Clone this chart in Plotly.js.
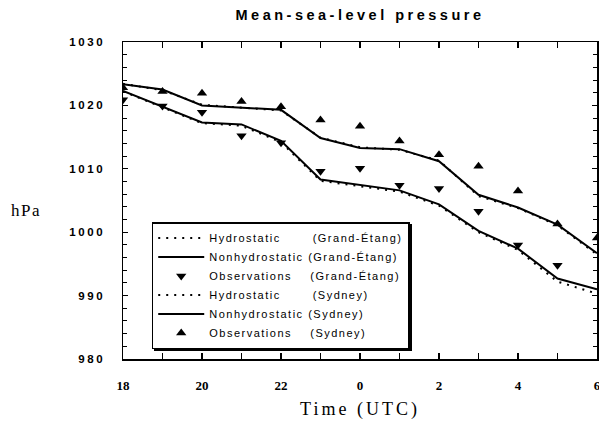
<!DOCTYPE html>
<html>
<head>
<meta charset="utf-8">
<script src="https://cdn.plot.ly/plotly-3.0.1.min.js"></script>
<style>
  html, body { margin: 0; padding: 0; background: #fff; }
  #chart { width: 599px; height: 428px; }
  .gtitle { letter-spacing: 3.5px; }
  .ytick text { letter-spacing: 2.6px; }
  .legendtext { letter-spacing: 1.5px; }
  .xtitle { letter-spacing: 3px; }
  .annotation-text { letter-spacing: 1.5px; }
  .legend .bg { filter: url(#legendShadow); }
</style>
</head>
<body>
<svg width="0" height="0" style="position:absolute">
  <defs>
    <filter id="legendShadow" x="-5%" y="-5%" width="115%" height="115%">
      <feDropShadow dx="2" dy="2" stdDeviation="0" flood-color="#000" flood-opacity="1"/>
    </filter>
  </defs>
</svg>
<div id="chart"></div>
<script>
// Hours (UTC); 24..30 correspond to 0..6 of the next day
const hours = [18, 19, 20, 21, 22, 23, 24, 25, 26, 27, 28, 29, 30];
const hourLabels = ['18', '', '20', '', '22', '', '0', '', '2', '', '4', '', '6'];

// Grand-Étang
const hydroGE    = [1022.2, 1019.7, 1017.2, 1016.8, 1014.2, 1008.1, 1007.3, 1006.4, 1004.2, 1000.0, 997.2, 992.2, 990.3];
const nonhydroGE = [1022.3, 1019.8, 1017.3, 1017.0, 1014.4, 1008.3, 1007.5, 1006.6, 1004.4, 1000.2, 997.4, 992.7, 991.0];
const obsGE      = [1020.9, 1019.9, 1018.9, 1015.2, 1014.1, 1009.6, 1010.1, 1007.4, 1006.9, 1003.3, 998.0, 994.8, null];

// Sydney
const hydroSyd    = [1023.4, 1022.4, 1020.1, 1019.6, 1019.2, 1014.9, 1013.4, 1013.0, 1011.3, 1005.7, 1003.8, 1001.1, 996.5];
const nonhydroSyd = [1023.35, 1022.5, 1020.0, 1019.7, 1019.3, 1014.85, 1013.3, 1013.1, 1011.2, 1005.9, 1003.9, 1001.2, 996.7];
const obsSyd      = [1022.8, 1022.2, 1021.9, 1020.6, 1019.8, 1017.7, 1016.7, 1014.4, 1012.2, 1010.4, 1006.5, 1001.3, 999.1];

const nb = n => '\u00a0'.repeat(n);
const dotted = { color: '#000', width: 2, dash: '2px,6px' };
const solid = { color: '#000', width: 2 };

const traces = [
  { x: hours, y: hydroGE, mode: 'lines', line: dotted, name: 'Hydrostatic' + nb(7) + '(Grand-Étang)' },
  { x: hours, y: nonhydroGE, mode: 'lines', line: solid, name: 'Nonhydrostatic' + nb(1) + '(Grand-Étang)' },
  { x: hours, y: obsGE, mode: 'markers', marker: { symbol: 'triangle-down', size: 9, color: '#000' }, name: 'Observations' + nb(4) + '(Grand-Étang)' },
  { x: hours, y: hydroSyd, mode: 'lines', line: dotted, name: 'Hydrostatic' + nb(7) + '(Sydney)' },
  { x: hours, y: nonhydroSyd, mode: 'lines', line: solid, name: 'Nonhydrostatic' + nb(1) + '(Sydney)' },
  { x: hours, y: obsSyd, mode: 'markers', marker: { symbol: 'triangle-up', size: 9, color: '#000' }, name: 'Observations' + nb(4) + '(Sydney)' }
];

const layout = {
  width: 599, height: 428,
  margin: { l: 123, r: 2, t: 42, b: 69 },
  paper_bgcolor: '#fff', plot_bgcolor: '#fff',
  showlegend: true,
  title: {
    text: 'Mean-sea-level pressure',
    font: { family: 'Liberation Sans, Arial, sans-serif', size: 14.5, color: '#000', weight: 'bold' },
    x: 0.5, xref: 'paper', xanchor: 'center',
    y: 1 - 15 / 428, yref: 'container', yanchor: 'middle'
  },
  xaxis: {
    range: [18, 30],
    tickmode: 'array', tickvals: hours, ticktext: hourLabels,
    ticks: 'inside', ticklen: 6, tickwidth: 1.2, tickcolor: '#000',
    showline: true, linecolor: '#000', linewidth: 1.5, mirror: 'ticks',
    showgrid: false, zeroline: false,
    ticklabelstandoff: 14, ticklabeloverflow: 'allow',
    tickfont: { family: 'Liberation Serif, Times New Roman, serif', size: 13, color: '#000', weight: 'bold' },
    title: { text: 'Time (UTC)', standoff: 10,
      font: { family: 'Liberation Serif, Times New Roman, serif', size: 18, color: '#000' } }
  },
  yaxis: {
    range: [980, 1030],
    tickmode: 'linear', tick0: 980, dtick: 10,
    ticks: 'inside', ticklen: 5, tickwidth: 1.2, tickcolor: '#000',
    minor: { dtick: 2, ticks: 'inside', ticklen: 4, tickwidth: 1, tickcolor: '#000', showgrid: false },
    showline: true, linecolor: '#000', linewidth: 1.5, mirror: 'ticks',
    showgrid: false, zeroline: false,
    ticklabelstandoff: 14,
    tickfont: { family: 'Liberation Sans, Arial, sans-serif', size: 11.5, color: '#000', weight: 'bold' }
  },
  legend: {
    x: 0.0606, y: 0.432, xanchor: 'left', yanchor: 'top',
    bgcolor: '#fff', bordercolor: '#000', borderwidth: 1.5,
    itemwidth: 46, tracegroupgap: 0,
    font: { family: 'Liberation Sans, Arial, sans-serif', size: 11, color: '#000' }
  },
  annotations: [{
    text: 'hPa', xref: 'paper', yref: 'paper',
    x: (26 - 123) / 474, y: (359 - 210) / 317,
    xanchor: 'center', yanchor: 'middle', showarrow: false,
    font: { family: 'Liberation Serif, Times New Roman, serif', size: 17, color: '#000' }
  }]
};

Plotly.newPlot('chart', traces, layout, { displayModeBar: false, staticPlot: true });
</script>
</body>
</html>
